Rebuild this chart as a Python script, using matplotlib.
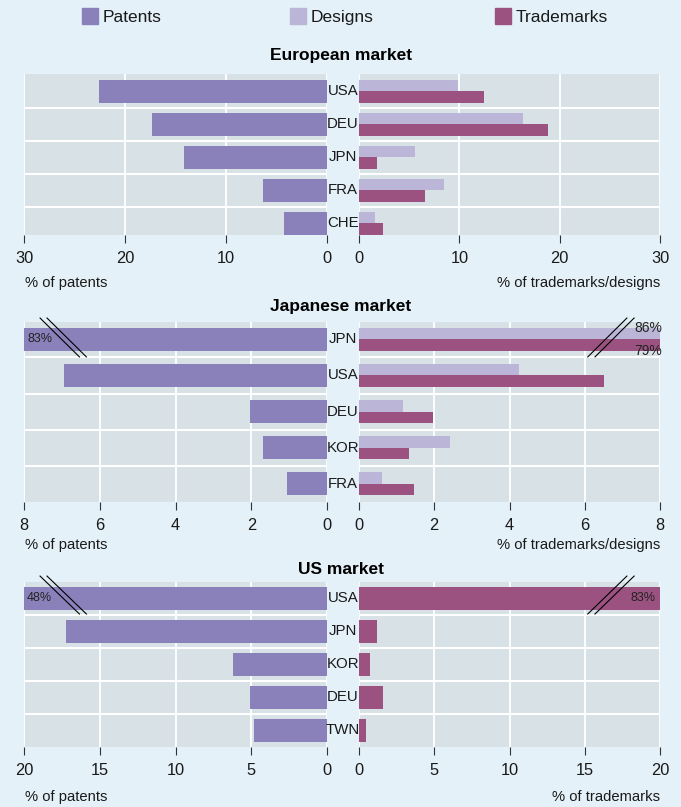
import matplotlib
matplotlib.use('Agg')
import matplotlib.pyplot as plt
import matplotlib.transforms as transforms
from matplotlib.patches import Rectangle
import numpy as np

plt.rcParams['font.family'] = 'Liberation Sans'

# ---------------- data ----------------
eu_countries = ['USA', 'DEU', 'JPN', 'FRA', 'CHE']
eu_patents = [22.6, 17.3, 14.2, 6.3, 4.3]
eu_designs = [9.9, 16.3, 5.6, 8.5, 1.6]
eu_trademarks = [12.5, 18.8, 1.8, 6.6, 2.4]

jp_countries = ['JPN', 'USA', 'DEU', 'KOR', 'FRA']
jp_patents = [83, 6.94, 2.03, 1.69, 1.06]
jp_designs = [86, 4.25, 1.17, 2.42, 0.61]
jp_trademarks = [79, 6.5, 1.97, 1.33, 1.46]

us_countries = ['USA', 'JPN', 'KOR', 'DEU', 'TWN']
us_patents = [48, 17.2, 6.2, 5.1, 4.85]
us_trademarks = [83, 1.2, 0.73, 1.6, 0.46]

# ---------------- style ----------------
W, H = 681, 807
bg = '#e4f1f8'
panel = '#d7e1e6'
c_pat = '#8b81ba'
c_des = '#bbb5d7'
c_tm = '#9c5281'
txt = '#1a1a1a'

fig = plt.figure(figsize=(W / 100, H / 100), dpi=100)
fig.patch.set_facecolor(bg)


def px_axes(x0, y0, x1, y1):
    return fig.add_axes([x0 / W, 1 - y1 / H, (x1 - x0) / W, (y1 - y0) / H])


def style(ax, xmax, ticks, ylim, n, left_side):
    ax.set_facecolor(panel)
    for s in ax.spines.values():
        s.set_visible(False)
    if left_side:
        ax.set_xlim(xmax, 0)
    else:
        ax.set_xlim(0, xmax)
    ax.set_ylim(*ylim)
    ax.set_xticks(ticks)
    ax.set_xticklabels([str(t) for t in ticks])
    ax.set_yticks([])
    ax.set_yticks(np.arange(0.5, n - 1, 1), minor=True)
    ax.tick_params(axis='x', length=6, width=0.8, color='#333333', pad=5.5,
                   labelsize=11.8, labelcolor=txt)
    ax.tick_params(axis='y', which='both', left=False, labelleft=False)
    ax.grid(axis='x', color='white', lw=1.3)
    ax.grid(axis='y', which='minor', color='white', lw=1.5)
    ax.set_axisbelow(True)


def break_marks(ax, row_y0, row_y1, left_side):
    tr = ax.transAxes
    if left_side:
        segs = [((0.053, 0.183), (row_y0, row_y1)), ((0.076, 0.206), (row_y0, row_y1))]
    else:
        segs = [((0.760, 0.890), (row_y1, row_y0)), ((0.784, 0.914), (row_y1, row_y0))]
    for xs, ys in segs:
        ax.plot(xs, ys, color='black', lw=0.8, transform=tr, clip_on=False, zorder=5)


def country_labels(ax, names):
    tr = transforms.blended_transform_factory(fig.transFigure, ax.transData)
    for i, nm in enumerate(names):
        ax.text(343 / W, i, nm, transform=tr, ha='center', va='center',
                fontsize=10.8, color=txt)


def market(top, bottom, ylim, bh, title, title_y, countries, patents,
           designs, trademarks, lmax, lticks, rmax, rticks, lab_y, rlabel):
    n = len(countries)
    y = np.arange(n)
    axl = px_axes(24, top, 327, bottom)
    axr = px_axes(359, top, 660, bottom)
    style(axl, lmax, lticks, ylim, n, True)
    style(axr, rmax, rticks, ylim, n, False)

    axl.barh(y, patents, height=bh, color=c_pat, zorder=3)
    if designs is not None:
        axr.barh(y - bh / 4, designs, height=bh / 2, color=c_des, zorder=3)
        axr.barh(y + bh / 4, trademarks, height=bh / 2, color=c_tm, zorder=3)
    else:
        axr.barh(y, trademarks, height=bh, color=c_tm, zorder=3)

    country_labels(axr, countries)

    fig.text(341 / W, 1 - title_y / H, title, ha='center', va='baseline',
             fontsize=12.5, fontweight='bold', color='black')
    fig.text(25 / W, 1 - lab_y / H, '% of patents', ha='left', va='baseline',
             fontsize=10.6, color=txt)
    fig.text(660 / W, 1 - lab_y / H, rlabel, ha='right', va='baseline',
             fontsize=10.6, color=txt)
    return axl, axr


def blend(ax):
    return transforms.blended_transform_factory(ax.transAxes, ax.transData)


# European market
market(74, 235, (4.35, -0.52), 0.70, 'European market', 60,
       eu_countries, eu_patents, eu_designs, eu_trademarks,
       30, [30, 20, 10, 0], 30, [0, 10, 20, 30], 287, '% of trademarks/designs')

# Japanese market
axl, axr = market(322, 502, (4.5, -0.48), 0.64, 'Japanese market', 311,
                  jp_countries, jp_patents, jp_designs, jp_trademarks,
                  8, [8, 6, 4, 2, 0], 8, [0, 2, 4, 6, 8], 549,
                  '% of trademarks/designs')
break_marks(axl, 1.022, 0.806, True)
break_marks(axr, 1.022, 0.806, False)
axl.text(0.01, 0, f'{jp_patents[0]}%', transform=blend(axl),
         ha='left', va='center', fontsize=9, color='#222222', zorder=6)
axr.text(1.006, -0.32, f'{jp_designs[0]}%', transform=blend(axr),
         ha='right', va='center', fontsize=10, color='#222222', zorder=6)
axr.text(1.006, 0.33, f'{jp_trademarks[0]}%', transform=blend(axr),
         ha='right', va='center', fontsize=10, color='#222222', zorder=6)

# US market
axl, axr = market(582, 747, (4.5, -0.49), 0.70, 'US market', 574,
                  us_countries, us_patents, None, us_trademarks,
                  20, [20, 15, 10, 5, 0], 20, [0, 5, 10, 15, 20], 801,
                  '% of trademarks')
break_marks(axl, 1.036, 0.806, True)
break_marks(axr, 1.036, 0.806, False)
axl.text(0.01, 0, f'{us_patents[0]}%', transform=blend(axl),
         ha='left', va='center', fontsize=9, color='#222222', zorder=6)
axr.text(0.985, 0, f'{us_trademarks[0]}%', transform=blend(axr),
         ha='right', va='center', fontsize=9, color='#222222', zorder=6)

# legend row
legend_items = [('Patents', c_pat, 82), ('Designs', c_des, 290), ('Trademarks', c_tm, 495)]
for label, col, x in legend_items:
    fig.patches.append(Rectangle((x / W, 1 - 24 / H), 16 / W, 16 / H,
                                 transform=fig.transFigure, color=col))
    fig.text((x + 21) / W, 1 - 22 / H, label, ha='left', va='baseline',
             fontsize=12.5, color=txt)

fig.savefig('out.png', dpi=100, facecolor=bg)
